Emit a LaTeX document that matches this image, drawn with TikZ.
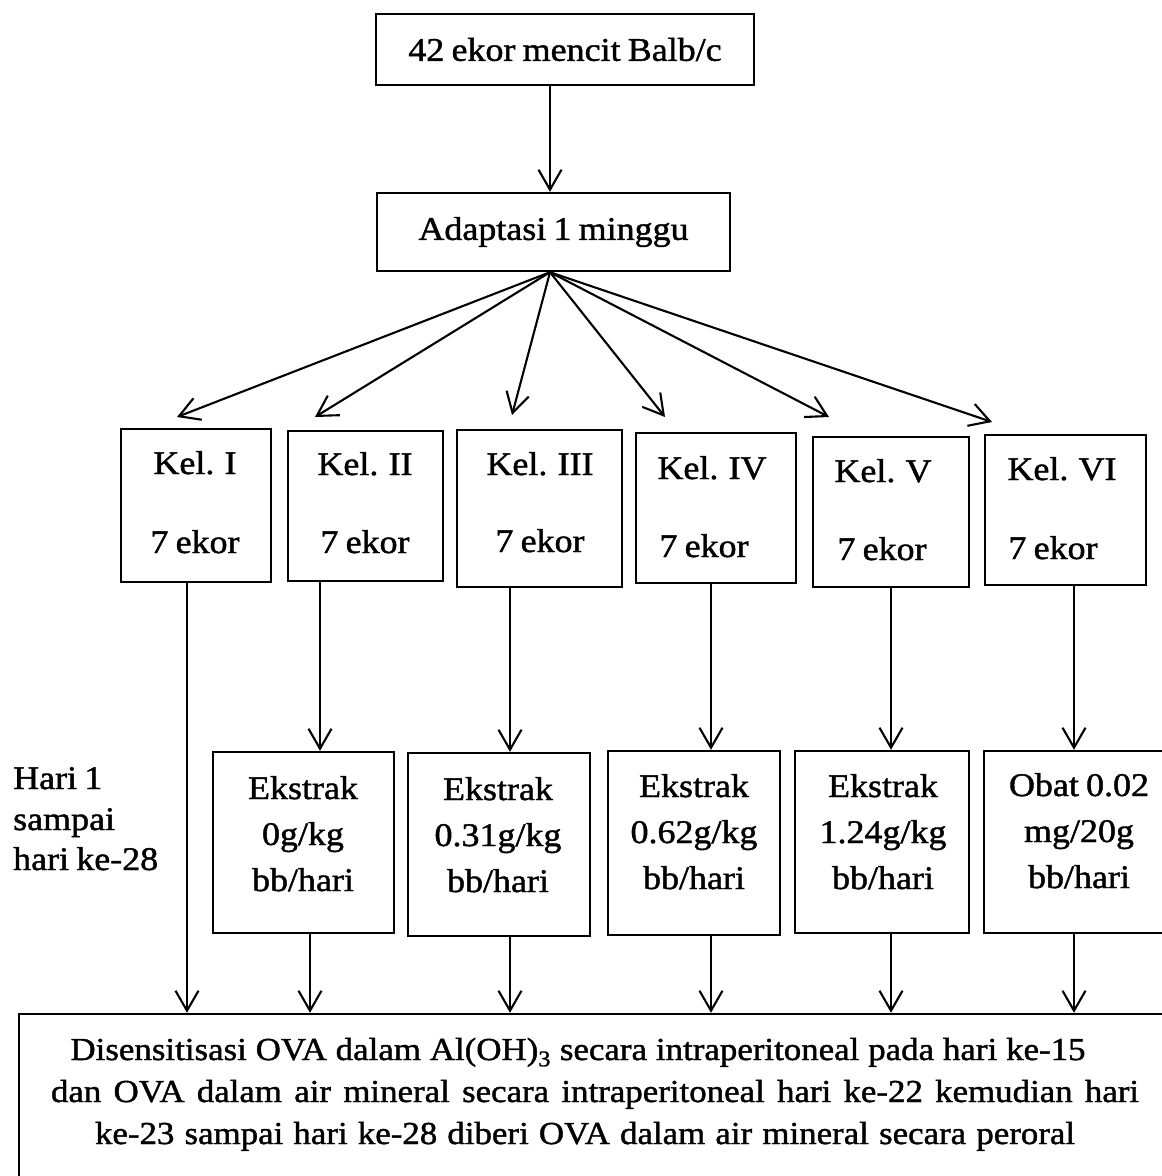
\documentclass[tikz,border=0pt]{standalone}
\usepackage{fontspec}
\setmainfont{Liberation Serif}[FakeStretch=1.09, FakeBold=1.3, WordSpace=0.8]
\usetikzlibrary{arrows.meta}
\tikzset{
  box/.style={draw, line width=2.4pt, inner sep=0pt},
  txt/.style={font=\fontsize{33}{40}\selectfont, inner sep=0pt, anchor=base},
  btxt/.style={font=\fontsize{32}{40}\selectfont, inner sep=0pt, anchor=base},
  arr/.style={line width=2.1pt, -{Straight Barb[length=20pt,width=23pt,line width=2.1pt]}}
}
\begin{document}
\begin{tikzpicture}[x=1pt,y=-1pt]
\clip (0,0) rectangle (1162,1176);
\fill[white] (0,0) rectangle (1162,1176);
% boxes
\node[box, minimum width=378, minimum height=71, font=\fontsize{33}{40}\selectfont] (top) at (565,49.5) {42 ekor mencit Balb/c};
\node[box, minimum width=353, minimum height=78, font=\fontsize{33}{40}\selectfont] (adapt) at (553.5,232) {Adaptasi 1 minggu};
\node[box, minimum width=150, minimum height=153] (k1) at (196,505.5) {};
\node[box, minimum width=155, minimum height=150] (k2) at (365.5,506) {};
\node[box, minimum width=165, minimum height=157] (k3) at (539.5,508.5) {};
\node[box, minimum width=160, minimum height=150] (k4) at (716,508) {};
\node[box, minimum width=156, minimum height=150] (k5) at (891,512) {};
\node[box, minimum width=161, minimum height=150] (k6) at (1065.5,510) {};
\node[box, minimum width=181, minimum height=181] (d1) at (303.5,842.5) {};
\node[box, minimum width=182, minimum height=183] (d2) at (499,844.5) {};
\node[box, minimum width=172, minimum height=184] (d3) at (694,843) {};
\node[box, minimum width=174, minimum height=182] (d4) at (882,842) {};
\node[box, minimum width=196, minimum height=182] (d5) at (1082,842) {};
\node[box, minimum width=1166, minimum height=181] (bot) at (602,1104.5) {};
% texts in group boxes
\node[txt] (k1a) at (195,474) {Kel. I};
\node[txt] (k1b) at (195,553) {7 ekor};
\node[txt] (k2a) at (365,475) {Kel. II};
\node[txt] (k2b) at (365,553) {7 ekor};
\node[txt] (k3a) at (540,475) {Kel. III};
\node[txt] (k3b) at (540,552) {7 ekor};
\node[txt] (k4a) at (712,479) {Kel. IV};
\node[txt] (k4b) at (704,557) {7 ekor};
\node[txt] (k5a) at (883,482) {Kel. V};
\node[txt] (k5b) at (882,560) {7 ekor};
\node[txt] (k6a) at (1062,480) {Kel. VI};
\node[txt] (k6b) at (1053,559) {7 ekor};
% dose texts
\node[txt] (d1a) at (303,799) {Ekstrak};
\node[txt] (d1b) at (303,845) {0g/kg};
\node[txt] (d1c) at (303,891) {bb/hari};
\node[txt] (d2a) at (498,800) {Ekstrak};
\node[txt] (d2b) at (498,846) {0.31g/kg};
\node[txt] (d2c) at (498,892) {bb/hari};
\node[txt] (d3a) at (694,797) {Ekstrak};
\node[txt] (d3b) at (694,843) {0.62g/kg};
\node[txt] (d3c) at (694,889) {bb/hari};
\node[txt] (d4a) at (883,797) {Ekstrak};
\node[txt] (d4b) at (883,843) {1.24g/kg};
\node[txt] (d4c) at (883,889) {bb/hari};
\node[txt] (d5a) at (1079,796) {Obat 0.02};
\node[txt] (d5b) at (1079,842) {mg/20g};
\node[txt] (d5c) at (1079,888) {bb/hari};
% side label
\node[txt, anchor=base west] (h1) at (13,789) {Hari 1};
\node[txt, anchor=base west] (h2) at (13,830) {sampai};
\node[txt, anchor=base west] (h3) at (13,870) {hari ke-28};
% bottom texts
\node[btxt] (b1) at (578,1060) {\makebox[1015pt][s]{Disensitisasi OVA dalam Al(OH)\textsubscript{3} secara intraperitoneal pada hari ke-15}};
\node[btxt] (b2) at (595,1102) {\makebox[1088pt][s]{dan OVA dalam air mineral secara intraperitoneal hari ke-22 kemudian hari}};
\node[btxt] (b3) at (585,1144) {\makebox[980pt][s]{ke-23 sampai hari ke-28 diberi OVA dalam air mineral secara peroral}};
% connectors
\draw[arr] ([xshift=-15pt]top.south) -- ([xshift=-3.5pt]adapt.north);
\coordinate (fan) at ([xshift=-3.5pt]adapt.south);
\coordinate (t1) at (177,417);
\coordinate (t2) at (315,417);
\coordinate (t3) at (512,415);
\coordinate (t4) at (665,417);
\coordinate (t5) at (829,417);
\coordinate (t6) at (992,422);
\foreach \t in {t1,t2,t3,t4,t5,t6} \draw[arr] (fan) -- (\t);
\coordinate (c1) at (187,0);
\coordinate (c2) at (320,0);
\coordinate (c3) at (510,0);
\coordinate (c4) at (711,0);
\coordinate (c5) at (891,0);
\coordinate (c6) at (1074,0);
\coordinate (e1) at (310,0);
\draw[arr] (k1.south -| c1) -- (bot.north -| c1);
\draw[arr] (k2.south -| c2) -- (d1.north -| c2);
\draw[arr] (k3.south -| c3) -- (d2.north -| c3);
\draw[arr] (k4.south -| c4) -- (d3.north -| c4);
\draw[arr] (k5.south -| c5) -- (d4.north -| c5);
\draw[arr] (k6.south -| c6) -- (d5.north -| c6);
\draw[arr] (d1.south -| e1) -- (bot.north -| e1);
\draw[arr] (d2.south -| c3) -- (bot.north -| c3);
\draw[arr] (d3.south -| c4) -- (bot.north -| c4);
\draw[arr] (d4.south -| c5) -- (bot.north -| c5);
\draw[arr] (d5.south -| c6) -- (bot.north -| c6);
\end{tikzpicture}
\end{document}
